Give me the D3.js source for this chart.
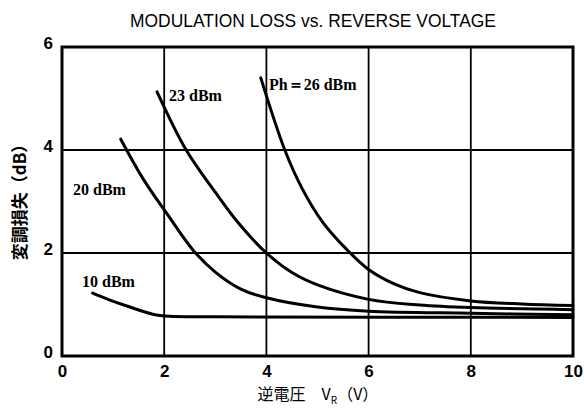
<!DOCTYPE html>
<html lang="ja">
	<head>
		<meta charset="utf-8">
		<title>modulation loss</title>
		<script type="text/javascript" src="https://d3js.org/d3.v7.min.js"></script>
		<style type="text/css">
            body{margin:0;background:#fff;}
            .tick text{font-family:"Liberation Sans",Arial,sans-serif;font-weight:bold;font-size:17px;fill:#000;}
            .lbl{font-family:"Liberation Serif","DejaVu Serif",serif;font-size:16px;font-weight:bold;fill:#000;}
		</style>
	</head>
	<body>
    <div id="chart1"></div>
		<script type="text/javascript">
            // values (x = reverse voltage V, y = loss dB)
            var xTicks = [0,2,4,6,8,10]
            var yTicks = [0,2,4,6]
            var ph26 = [[3.89,5.40],[4.36,4.0],[4.7,3.25],[5.1,2.6],[5.58,2.06],[6,1.68],[6.5,1.4],[7,1.23],[8,1.07],[9,1.01],[10,0.98]]
            var ph23 = [[1.86,5.13],[2.43,4.0],[3.0,3.18],[3.42,2.62],[4.0,2.0],[4.5,1.62],[5,1.38],[6,1.1],[7,0.99],[8,0.94],[10,0.9]]
            var ph20 = [[1.15,4.21],[1.6,3.42],[2.07,2.74],[2.57,2.05],[3,1.63],[3.5,1.3],[4,1.13],[5,0.95],[6,0.87],[8,0.83],[10,0.8]]
            var ph10 = [[0.6,1.22],[0.9,1.1],[1.27,0.97],[1.78,0.81],[2.1,0.77],[3,0.76],[10,0.75]]
            var seriesNames = ["Ph\uFF1D26 dBm","23 dBm","20 dBm","10 dBm"]

            var W = 584, H = 410
            var mLeft = 62, mTop = 47, w = 511, h = 309

            var svg = d3.select("#chart1").append("svg")
                .attr("width",W).attr("height",H)

            var xScale = d3.scaleLinear().domain([0,10]).range([mLeft,mLeft+w])
            var yScale = d3.scaleLinear().domain([0,6]).range([mTop+h,mTop])

            //grid lines
            svg.selectAll(".vgrid").data(xTicks.slice(1,-1)).enter().append("line")
                .attr("x1",d=>xScale(d)).attr("x2",d=>xScale(d))
                .attr("y1",mTop).attr("y2",mTop+h)
                .attr("stroke","#000").attr("stroke-width",1.8)
            svg.selectAll(".hgrid").data(yTicks.slice(1,-1)).enter().append("line")
                .attr("y1",d=>yScale(d)).attr("y2",d=>yScale(d))
                .attr("x1",mLeft).attr("x2",mLeft+w)
                .attr("stroke","#000").attr("stroke-width",1.8)

            //axes (labels only, frame drawn below)
            var xAxis = d3.axisBottom(xScale).tickValues(xTicks).tickFormat(d3.format("d")).tickSize(0).tickPadding(9)
            svg.append("g").attr("transform","translate(0,"+(mTop+h)+")").call(xAxis)
                .call(g=>g.select(".domain").remove())
            var yAxis = d3.axisLeft(yScale).tickValues(yTicks).tickFormat(d3.format("d")).tickSize(0).tickPadding(9)
            svg.append("g").attr("transform","translate("+mLeft+",0)").call(yAxis)
                .call(g=>g.select(".domain").remove())
                .selectAll("text").attr("dy","0.1em")

            //frame
            svg.append("rect").attr("x",mLeft).attr("y",mTop).attr("width",w).attr("height",h)
                .attr("fill","none").attr("stroke","#000").attr("stroke-width",3)

            //curves
            var line = d3.line().x(d=>xScale(d[0])).y(d=>yScale(d[1])).curve(d3.curveCatmullRom.alpha(0.5))
            var allSeries = [ph26,ph23,ph20,ph10]
            svg.selectAll(".curve").data(allSeries).enter().append("path")
                .attr("d",line).attr("fill","none").attr("stroke","#000")
                .attr("stroke-width",3).attr("stroke-linecap","round")

            //curve labels
            var labelPos = [[269,90],[169,101],[73,195],[82,287]]
            svg.selectAll(".lbl").data(seriesNames).enter().append("text")
                .attr("class","lbl")
                .attr("x",(d,i)=>labelPos[i][0]).attr("y",(d,i)=>labelPos[i][1])
                .text(d=>d)

            //title
            svg.append("text").attr("x",313).attr("y",27).attr("text-anchor","middle")
                .attr("textLength",366).attr("lengthAdjust","spacingAndGlyphs")
                .style("font-family","'Liberation Sans Narrow','Liberation Sans',sans-serif")
                .style("font-size","18px").text("MODULATION LOSS vs. REVERSE VOLTAGE")

            //x axis title
            var xt = svg.append("text").attr("x",318).attr("y",400).attr("text-anchor","middle")
                .style("font-family","'Noto Sans CJK JP',serif").style("font-size","16px")
            xt.append("tspan").text("逆電圧\u3000V")
            xt.append("tspan").attr("dy",4).style("font-size","10px").text("R")
            xt.append("tspan").attr("dy",-4).text("（V）")

            //y axis title
            svg.append("text").attr("transform","translate(26,"+198+") rotate(-90)")
                .attr("text-anchor","middle")
                .style("font-family","'Noto Sans CJK JP',serif").style("font-size","17px")
                .style("font-weight","bold")
                .text("変調損失（dB）")
		</script>
	</body>
</html>
